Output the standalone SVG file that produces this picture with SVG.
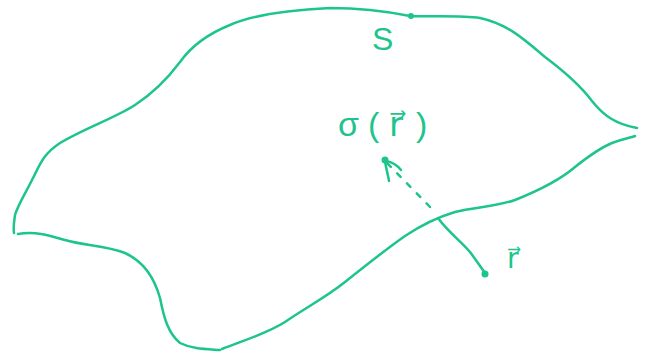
<svg xmlns="http://www.w3.org/2000/svg" width="648" height="357" viewBox="0 0 648 357">
<style>
.s{fill:none;stroke:#1ec48d;stroke-width:2.5;stroke-linecap:round;stroke-linejoin:round}
.t{fill:#1ec48d;font-family:"Liberation Sans",Arial,sans-serif}
.a{font-family:"DejaVu Sans","Noto Sans",sans-serif}
.d{fill:#1ec48d}
</style>
<rect width="648" height="357" fill="#ffffff"/>
<g id="surface">
<path class="s" d="M637,128 C615,124 603,115 592,101 C580,85 565,72 545,57 C525,40 508,24 480,18 C460,15 430,17 410,16 C390,12 360,8 330,8 C290,10 255,14 230,25 C205,35 190,48 180,62 C168,78 155,92 135,105 C115,118 85,128 60,143 C42,155 40,165 32,180 C24,196 18,205 15,215 C14,222 13,228 14,233"/>
<path class="s" d="M18,234 C35,231 48,235 65,240 C85,246 105,245 125,253 C145,262 155,280 160,298 C164,318 168,333 180,343 C192,349 205,349 220,350"/>
<path class="s" d="M222,349 C245,340 268,333 285,322 C305,308 325,298 345,282 C365,266 385,250 405,236 C420,226 435,218 455,212 C475,207 495,207 515,200 C540,190 560,180 575,167 C590,155 600,148 612,143 C622,139 630,138 635,136"/>
<circle class="d" cx="411" cy="16" r="3"/>
</g>
<g id="label-S"><text class="t" x="372" y="50" font-size="32">S</text></g>
<g id="label-sigma">
<text class="t" font-size="34" y="136"><tspan x="338">σ</tspan><tspan x="368">(</tspan><tspan class="a" x="389">r⃗</tspan><tspan x="416">)</tspan></text>
</g>
<g id="point-r">
<path class="s" d="M438,218 C448,232 462,242 470,252 C476,260 480,266 485,273"/>
<circle class="d" cx="485" cy="274" r="3.5"/>
<text class="t a" x="507" y="268" font-size="28">r⃗</text>
</g>
<g id="connectors">
<path class="s" d="M430,207 L386,162" stroke-dasharray="5 9"/>
<path class="s" d="M385,161 C386,168 388,175 389,181 M386,161 C392,162 397,165 401,170"/>
<circle class="d" cx="385" cy="160" r="3.5"/>
</g>
</svg>
